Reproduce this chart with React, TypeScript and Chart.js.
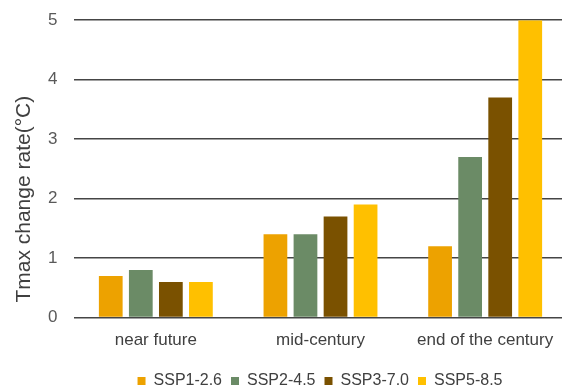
import React, { useEffect, useRef } from "react";
import { Chart, registerables } from "chart.js";

Chart.register(...registerables);

const categories = ["near future", "mid-century", "end of the century"];
const seriesNames = ["SSP1-2.6", "SSP2-4.5", "SSP3-7.0", "SSP5-8.5"];
const ssp126 = [0.7, 1.4, 1.2];
const ssp245 = [0.8, 1.4, 2.7];
const ssp370 = [0.6, 1.7, 3.7];
const ssp585 = [0.6, 1.9, 5.0];
const seriesColors = ["#EDA200", "#6B8B66", "#7A5100", "#FFC000"];
const yTitle = "Tmax change rate(°C)";
const yMin = 0;
const yMax = 5;
const yStep = 1;

const FONT = "'Liberation Sans', Arial, sans-serif";

const yTitlePlugin = {
  id: "yTitlePlugin",
  afterDraw(chart: any) {
    const { ctx, chartArea } = chart;
    ctx.save();
    ctx.translate(24, chartArea.bottom - 15);
    ctx.rotate(-Math.PI / 2);
    ctx.font = `21px ${FONT}`;
    ctx.fillStyle = "#404040";
    ctx.textAlign = "left";
    ctx.textBaseline = "middle";
    ctx.fillText(yTitle, 0, 0);
    ctx.restore();
  },
};

export default function App() {
  const ref = useRef<HTMLCanvasElement>(null);
  useEffect(() => {
    if (!ref.current) return;
    const values = [ssp126, ssp245, ssp370, ssp585];
    const chart = new Chart(ref.current, {
      type: "bar",
      data: {
        labels: categories,
        datasets: seriesNames.map((name, i) => ({
          label: name,
          data: values[i],
          backgroundColor: seriesColors[i],
          borderWidth: 0,
          yAxisID: "y",
          categoryPercentage: 0.73,
          barPercentage: 0.79,
        })),
      },
      options: {
        responsive: false,
        animation: false,
        layout: { padding: { top: 0, right: 0, bottom: -12, left: 0 } },
        plugins: {
          tooltip: { enabled: false },
          legend: {
            position: "bottom",
            labels: {
              boxWidth: 8,
              boxHeight: 8,
              color: "#404040",
              padding: 9,
              font: { family: FONT, size: 16 },
            },
          },
        },
        scales: {
          x: {
            grid: { display: false, drawTicks: false },
            border: { display: false },
            ticks: {
              color: "#404040",
              padding: 13,
              font: { family: FONT, size: 17 },
            },
          },
          y: {
            min: yMin,
            max: yMax,
            ticks: {
              stepSize: yStep,
              color: "#595959",
              padding: 16,
              font: { family: FONT, size: 17 },
            },
            grid: { color: "#454545", lineWidth: 1.5, drawTicks: false },
            border: { display: false },
            afterFit: (s: any) => {
              s.width = 73.5;
            },
          },
          yRightSpace: {
            type: "linear",
            position: "right",
            min: yMin,
            max: yMax,
            ticks: { display: false },
            grid: { display: false, drawTicks: false },
            border: { display: false },
            afterFit: (s: any) => {
              s.width = 72.5;
            },
          },
        },
      },
      plugins: [yTitlePlugin],
    });
    return () => chart.destroy();
  }, []);
  return (
    <div
      style={{
        position: "fixed",
        left: 0,
        top: 0,
        width: 562,
        height: 387,
        overflow: "hidden",
        background: "#fff",
      }}
    >
      <canvas
        ref={ref}
        width={640}
        height={393}
        style={{ width: 640, height: 393, display: "block", marginTop: -6 }}
      />
    </div>
  );
}
